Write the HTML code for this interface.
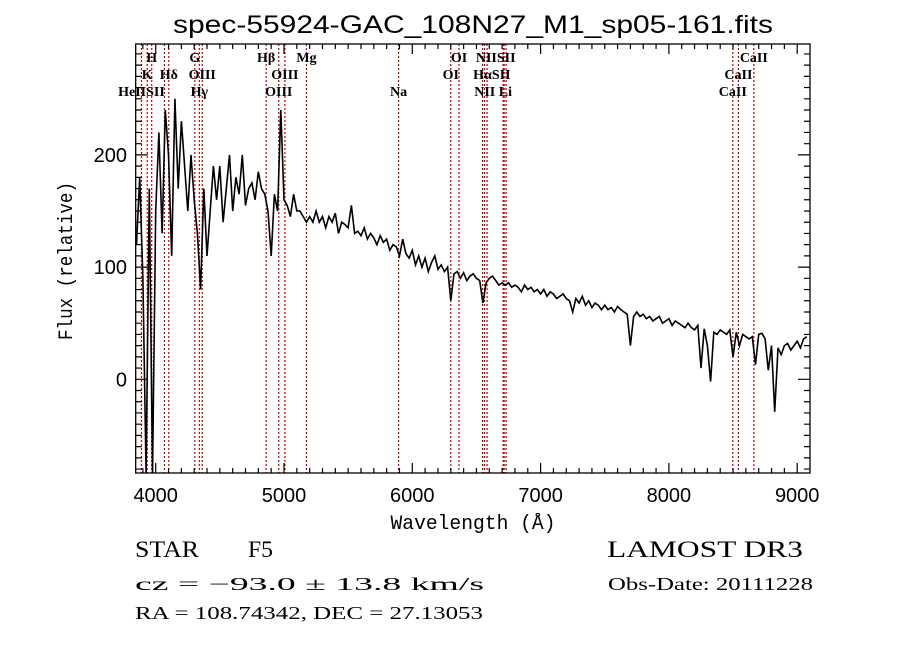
<!DOCTYPE html>
<html><head><meta charset="utf-8"><style>
html,body{margin:0;padding:0;background:#fff}
svg{display:block}
text{fill:#000}
</style></head><body>
<svg id="chart" width="900" height="649" viewBox="0 0 900 649" xmlns="http://www.w3.org/2000/svg">
<rect width="900" height="649" fill="#fff"/>
<text x="473" y="33" font-family="Liberation Sans, sans-serif" font-size="25" text-anchor="middle" textLength="600" lengthAdjust="spacingAndGlyphs">spec-55924-GAC_108N27_M1_sp05-161.fits</text>
<g id="lines"></g>
<g id="spec"></g>
<g id="axes"></g>
<text x="473" y="529" font-family="Liberation Mono, monospace" font-size="20" text-anchor="middle" textLength="165" lengthAdjust="spacingAndGlyphs">Wavelength (Å)</text>
<text transform="translate(72,261) rotate(-90)" font-family="Liberation Mono, monospace" font-size="20" text-anchor="middle" textLength="158" lengthAdjust="spacingAndGlyphs">Flux (relative)</text>
<text x="135" y="557" font-family="Liberation Serif, serif" font-size="23" textLength="64" lengthAdjust="spacingAndGlyphs">STAR</text>
<text x="248" y="557" font-family="Liberation Serif, serif" font-size="23" textLength="25" lengthAdjust="spacingAndGlyphs">F5</text>
<text x="135" y="590" font-family="Liberation Serif, serif" font-size="18" textLength="349" lengthAdjust="spacingAndGlyphs">cz = −93.0 ± 13.8 km/s</text>
<text x="135" y="619" font-family="Liberation Serif, serif" font-size="18" textLength="348" lengthAdjust="spacingAndGlyphs">RA = 108.74342, DEC =  27.13053</text>
<text x="607" y="557" font-family="Liberation Serif, serif" font-size="23" textLength="196" lengthAdjust="spacingAndGlyphs">LAMOST DR3</text>
<text x="608" y="590" font-family="Liberation Serif, serif" font-size="18" textLength="205" lengthAdjust="spacingAndGlyphs">Obs-Date: 20111228</text>
</svg>
<script>
const wlStart = 3850;
const wlStep = 25;
const flux = [
120,180,90,-85,170,-85,
150,220,130,240,200,110,250,170,230,190,
150,200,160,130,80,170,110,150,190,160,
190,140,170,200,150,180,165,200,155,170,
175,160,185,170,165,150,110,165,150,240,
160,155,145,165,150,150,145,140,145,140,
150,140,145,135,145,140,148,130,140,138,
135,155,130,132,128,135,125,130,126,120,
128,122,125,115,120,118,110,125,112,108,
115,102,110,100,108,96,104,110,98,102,
96,100,70,94,96,90,95,88,92,94,
90,88,68,86,90,92,88,84,86,84,
86,82,84,82,78,84,80,82,78,80,
76,80,74,78,76,72,74,76,72,70,
60,72,68,74,66,70,64,68,66,62,
66,62,64,60,65,62,60,58,30,56,
60,56,58,54,56,52,54,56,50,52,
54,48,52,50,48,46,50,46,44,48,
10,45,30,-2,42,40,44,42,40,44,
20,42,30,40,38,36,38,13,40,41,
36,8,30,-29,28,22,30,32,26,30,
34,28,36,38];
const lineWl = [3889,3934,3969,4068,4102,4305,4340,4363,4861,4959,5007,5175,5893,6300,6364,6548,6563,6583,6708,6716,6731,8498,8542,8662];
const lineLabels = ["H","G","Hβ","Mg","OI","NIISII","CaII","K","Hδ","OIII","OIII","OI","HαSII","CaII","HeIISII","Hγ","OIII","Na","NII Li","CaII"];
const labelWl = [3969,4305,4861,5175,6364,6650,8662,3934,4102,4363,5007,6300,6620,8542,3889,4340,4959,5893,6630,8498];
const labelRow = [0,0,0,0,0,0,0,1,1,1,1,1,1,1,2,2,2,2,2,2];
const xTicks = [4000,5000,6000,7000,8000,9000];
const yTicks = [0,100,200];

const X0=135.7,X1=810,Y0=44,Y1=473;
const x = w => 155.7 + (w-4000)*0.1283;
const y = f => 379.3 - f*1.122;
const NS='http://www.w3.org/2000/svg';
function mk(tag,attrs,parent){const e=document.createElementNS(NS,tag);for(const k in attrs)e.setAttribute(k,attrs[k]);parent.appendChild(e);return e;}
const gl=document.getElementById('lines'),gs=document.getElementById('spec'),ga=document.getElementById('axes');

lineWl.forEach(w=>{
  const l=mk('line',{x1:x(w),x2:x(w),y1:Y0,y2:Y1,stroke:'#c00000','stroke-width':1.2,'stroke-dasharray':'2,2'},gl);
  
  
});
lineLabels.forEach((s,i)=>{
  const t=mk('text',{x:x(labelWl[i]),y:62+labelRow[i]*17,'font-family':'Liberation Serif, serif','font-size':14,'font-weight':'bold','text-anchor':'middle'},gl);
  t.textContent=s;
  
  
});

const cp=mk('clipPath',{id:'cp'},gs);mk('rect',{x:X0,y:Y0,width:X1-X0,height:Y1-Y0},cp);
let d='';
flux.forEach((f,i)=>{const w=wlStart+i*wlStep;d+=(i?'L':'M')+x(w).toFixed(1)+','+y(f).toFixed(1);});
const p=mk('path',{d:d,fill:'none',stroke:'#000','stroke-width':1.6,'clip-path':'url(#cp)'},gs);



const frame=mk('rect',{x:X0,y:Y0,width:X1-X0,height:Y1-Y0,fill:'none',stroke:'#000','stroke-width':1.3},ga);


let td='';
for(let w=3900;w<=9100;w+=100){const xx=x(w);if(xx<X0||xx>X1)continue;const L=(w%1000===0)?10:5;td+=`M${xx},${Y1}v${-L}M${xx},${Y0}v${L}`;}
for(let f=-80;f<=290;f+=10){const yy=y(f);if(yy<Y0||yy>Y1)continue;const L=(f%100===0)?12:6;td+=`M${X0},${yy}h${L}M${X1},${yy}h${-L}`;}
const tk=mk('path',{d:td,stroke:'#000','stroke-width':1.2,fill:'none'},ga);


xTicks.forEach(w=>{
  const t=mk('text',{x:x(w),y:502,'font-family':'Liberation Sans, sans-serif','font-size':20,'text-anchor':'middle'},ga);
  t.textContent=w;
  
  
});
yTicks.forEach(f=>{
  const t=mk('text',{x:127,y:y(f)+7,'font-family':'Liberation Sans, sans-serif','font-size':20,'text-anchor':'end'},ga);
  t.textContent=f;
  
  
});
</script>
</body></html>
